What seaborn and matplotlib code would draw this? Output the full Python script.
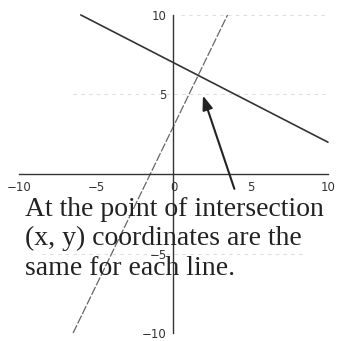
import seaborn as sns
import matplotlib.pyplot as plt
import pandas as pd

# lignes
line1_x = [-6, 10]
line1_y = [10, 2]
line2_x = [-6.5, 3.5]
line2_y = [-10, 10]

ticks = [-10, -5, 0, 5, 10]
yticks = [-10, -5, 5, 10]

# lignes de grille pâles (y, début, fin)
grid_y = [10, 5, -5]
grid_from = [0.5, -6.5, -8.5]
grid_to = [10, 10, 8.5]

arrow_tail = (4.0, -1.1)
arrow_head = (1.85, 5.1)

caption = "At the point of intersection\n(x, y) coordinates are the\nsame for each line."

df1 = pd.DataFrame({'x': line1_x, 'y': line1_y})
df2 = pd.DataFrame({'x': line2_x, 'y': line2_y})

sns.set_style("white")
fig = plt.figure(figsize=(3.4, 3.41), dpi=100)
ax = fig.add_axes([0, 0, 1, 1])
ax.patch.set_alpha(0)

ax.hlines(grid_y, grid_from, grid_to, color='#dddddd', lw=0.8, ls=(0, (3, 4)), zorder=0)

sns.lineplot(data=df1, x='x', y='y', ax=ax, color='#333333', lw=1.2)
sns.lineplot(data=df2, x='x', y='y', ax=ax, color='#666666', lw=0.9)
ax.lines[-1].set_linestyle((0, (7, 1.5)))

ax.annotate('', xy=arrow_head, xytext=arrow_tail,
            arrowprops=dict(arrowstyle='-|>,head_length=0.6,head_width=0.22',
                            color='#222222', lw=1.5, mutation_scale=14))

ax.set_xlim(-11.23, 10.78)
ax.set_ylim(-10.5, 10.94)

for s in ['top', 'right']:
    ax.spines[s].set_visible(False)
ax.spines['left'].set_position(('data', 0))
ax.spines['bottom'].set_position(('data', 0))
ax.spines['left'].set_bounds(-10, 10)
ax.spines['bottom'].set_bounds(-10, 10)
for s in ['left', 'bottom']:
    ax.spines[s].set_color('#333333')
    ax.spines[s].set_linewidth(1.0)

ax.set_xticks(ticks)
ax.set_xticklabels(['\u221210', '\u22125', '0', '5', '10'])
ax.set_yticks(yticks)
ax.set_yticklabels(['\u221210', '\u22125', '5', '10'])
ax.tick_params(direction='inout', length=6, width=1, colors='#333333', labelsize=8.5, pad=2)
ax.set_xlabel('')
ax.set_ylabel('')

ax.text(-9.6, -1.45, caption, family='Liberation Serif', fontsize=20,
        va='top', ha='left', color='#222222', linespacing=1.22, zorder=5)

plt.savefig('out.png', dpi=100)
